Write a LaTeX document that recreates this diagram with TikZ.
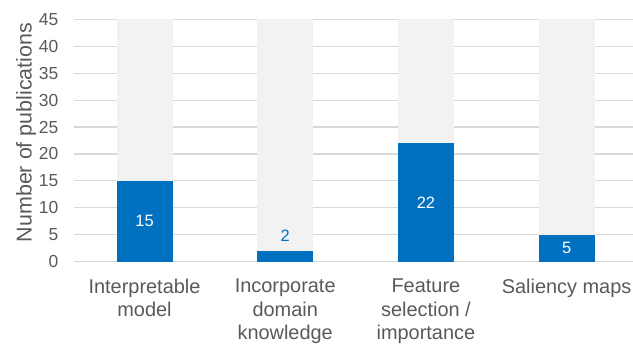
\documentclass[tikz,border=0pt]{standalone}
\usepackage{fontspec}
\setmainfont{Liberation Sans}
\definecolor{barblue}{HTML}{0070C0}
\definecolor{bargrey}{HTML}{F2F2F2}
\definecolor{gridgrey}{HTML}{D9D9D9}
\definecolor{labelgrey}{HTML}{595959}
\begin{document}
\begin{tikzpicture}[x=1bp,y=-1bp,
  gridline/.style={draw=gridgrey,line width=1.3bp},
  fullbar/.style={fill=bargrey,draw=none},
  valbar/.style={fill=barblue,draw=none},
  ticklabel/.style={anchor=east,inner sep=0pt,text=labelgrey,font=\fontsize{17.5}{20}\selectfont},
  catlabel/.style={anchor=north,inner sep=0pt,align=center,text=labelgrey,font=\fontsize{20}{23.8}\selectfont},
  vallabel/.style={inner sep=0pt,font=\fontsize{16.5}{19}\selectfont},
  axistitle/.style={rotate=90,anchor=base,inner sep=0pt,text=labelgrey,font=\fontsize{21.5}{24}\selectfont}]
\useasboundingbox (0,0) rectangle (633,343);
% value v sits at y = 261.5 - 5.378 v
\def\ybase{261.5}
\def\yunit{5.378}
% horizontal gridlines and tick labels
\foreach \v in {0,5,...,45}{
  \draw[gridline] (74,{\ybase-\yunit*\v}) -- (633,{\ybase-\yunit*\v});
  \node[ticklabel] (tick\v) at (58.5,{\ybase-\yunit*\v}) {\v};
}
% axis title
\node[axistitle] (ytitle) at (31.5,132.5) {Number of publications};
% bars: background to 45, value in front
\foreach \name/\cx/\val in {a/144.5/15,b/285.2/2,c/425.9/22,d/566.6/5}{
  \fill[fullbar] ({\cx-28},{\ybase-\yunit*45}) rectangle ({\cx+28},\ybase);
  \fill[valbar] ({\cx-28},{\ybase-\yunit*\val}) rectangle ({\cx+28},\ybase);
  \coordinate (bar\name) at (\cx,{\ybase-\yunit*\val/2});
}
% value labels
\node[vallabel,text=white] (va) at (bara) {15};
\node[vallabel,text=barblue] (vb) at (285.2,236) {2};
\node[vallabel,text=white] (vc) at (barc) {22};
\node[vallabel,text=white] (vd) at (bard) {5};
% category labels
\node[catlabel] (ca) at (144.5,278.5) {Interpretable\\model};
\node[catlabel] (cb) at (285.2,278.5) {Incorporate\\domain\\knowledge};
\node[catlabel] (cc) at (425.9,278.5) {Feature\\selection /\\importance};
\node[catlabel] (cd) at (566.6,278.5) {Saliency maps};
\end{tikzpicture}
\end{document}
